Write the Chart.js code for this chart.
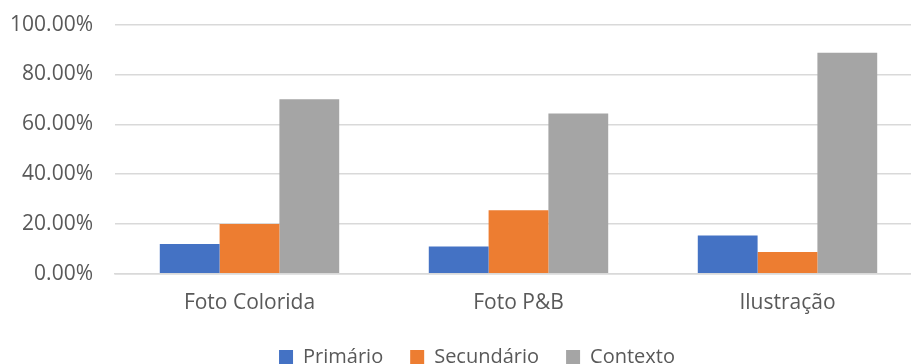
<!DOCTYPE html>
<html>
<head>
<meta charset="utf-8">
<script src="https://cdn.jsdelivr.net/npm/chart.js@4.4.0/dist/chart.umd.min.js"></script>
<style>
  html, body { margin: 0; padding: 0; background: #fff; }
  #wrap { width: 911px; height: 364px; overflow: hidden; position: relative; }
  #chart { position: absolute; left: 0; top: -10px; }
</style>
</head>
<body>
<div id="wrap">
  <canvas id="chart" width="952" height="400"></canvas>
</div>
<script>
// categories and series (fractions of 1)
const categories = ['Foto Colorida', 'Foto P&B', 'Ilustração'];
const primario = [0.12, 0.11, 0.154];
const secundario = [0.20, 0.255, 0.087];
const contexto = [0.70, 0.643, 0.887];
const yTicks = [0, 0.2, 0.4, 0.6, 0.8, 1.0];

const FONT = "'Open Sans', 'Noto Sans', sans-serif";
const TEXT = '#595959';

// puts the legend centred under the whole figure, just below the category labels
const legendPlace = {
  id: 'legendPlace',
  afterLayout(chart) {
    const lg = chart.legend;
    const dx = 477 - (lg.left + lg.right) / 2;
    lg.left += dx;
    lg.right += dx;
    const h = lg.bottom - lg.top;
    lg.top = 330;
    lg.bottom = lg.top + h;
  }
};

const data = {
  labels: categories,
  datasets: [
    { label: 'Primário', data: primario, backgroundColor: '#4472C4' },
    { label: 'Secundário', data: secundario, backgroundColor: '#ED7D31' },
    { label: 'Contexto', data: contexto, backgroundColor: '#A5A5A5' },
  ]
};

const options = {
  responsive: false,
  animation: false,
  layout: { padding: { top: 11, right: 30, bottom: 0, left: 0 } },
  datasets: {
    bar: { categoryPercentage: 0.667, barPercentage: 1.0 }
  },
  scales: {
    x: {
      grid: { display: false, drawTicks: false },
      border: { display: true, color: '#d9d9d9', width: 1.5 },
      ticks: { color: TEXT, font: { family: FONT, size: 21 }, padding: 17 }
    },
    y: {
      min: 0,
      max: 1,
      afterBuildTicks(scale) {
        scale.ticks = yTicks.map(v => ({ value: v }));
      },
      afterFit(scale) { scale.width = 115; },
      grid: { color: '#d9d9d9', lineWidth: 1.5, drawTicks: false },
      border: { display: false },
      ticks: {
        color: TEXT,
        font: { family: FONT, size: 21 },
        padding: 22,
        callback: v => (v * 100).toFixed(2) + '%'
      }
    }
  },
  plugins: {
    legend: {
      position: 'bottom',
      labels: {
        color: TEXT,
        font: { family: FONT, size: 20 },
        boxWidth: 14,
        boxHeight: 14,
        padding: 27
      }
    },
    tooltip: { enabled: false }
  }
};

new Chart(document.getElementById('chart'), {
  type: 'bar',
  data: data,
  options: options,
  plugins: [legendPlace]
});
</script>
</body>
</html>
